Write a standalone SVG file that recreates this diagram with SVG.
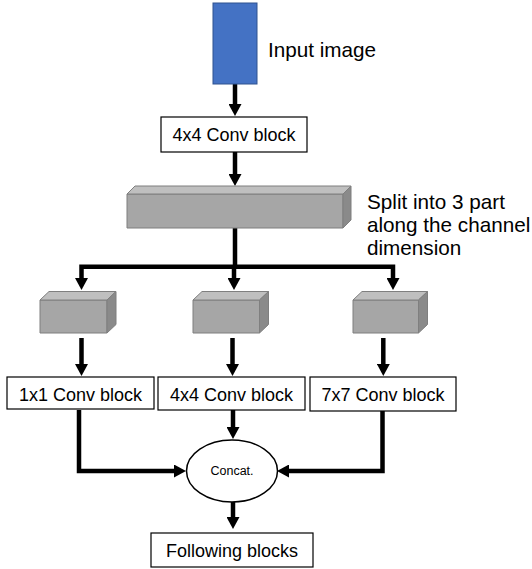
<svg xmlns="http://www.w3.org/2000/svg" width="532" height="569" viewBox="0 0 532 569">
<style>
.box{fill:#fff;stroke:#000;stroke-width:1.2}
.lbl{font-family:"Liberation Sans",Arial,sans-serif;font-size:18px;fill:#000;text-anchor:middle}
.note{font-family:"Liberation Sans",Arial,sans-serif;font-size:20.7px;fill:#000}
.front{fill:#A6A6A6;stroke:#7F7F7F;stroke-width:1}
.top{fill:#BFBFBF;stroke:#7F7F7F;stroke-width:1}
.side{fill:#8A8A8A;stroke:#7F7F7F;stroke-width:1}
.conn{fill:none;stroke:#000;stroke-width:4.5;stroke-linejoin:miter;marker-end:url(#ah)}
</style>
<defs>
<marker id="ah" viewBox="0 0 12 13" refX="2" refY="6.5" markerWidth="12" markerHeight="13" orient="auto" markerUnits="userSpaceOnUse">
<path d="M0,0 L12,6.5 L0,13 z" fill="#000"/>
</marker>
</defs>

<g id="connectors">
<path class="conn" d="M235,84 V106"/>
<path class="conn" d="M235,152 V176"/>
<path class="conn" d="M235,228 V266.7 H81.5 V280"/>
<path class="conn" d="M235,266.7 H393 V280"/>
<path class="conn" d="M234,266.7 V280"/>
<path class="conn" d="M81.5,338 V366"/>
<path class="conn" d="M232.5,338 V366"/>
<path class="conn" d="M383.3,338 V366"/>
<path class="conn" d="M79,410 V471 H176"/>
<path class="conn" d="M382.5,411 V471 H287"/>
<path class="conn" d="M233,410 V429"/>
<path class="conn" d="M233,502 V519"/>
</g>

<g id="input">
<rect x="213" y="3" width="44" height="81" fill="#4472C4" stroke="#2F528F" stroke-width="1"/>
<text class="note" x="268" y="57">Input image</text>
</g>

<g id="conv4-top">
<rect class="box" x="161" y="117" width="146" height="35"/>
<text class="lbl" x="234" y="140.5">4x4 Conv block</text>
</g>

<g id="slab">
<polygon class="front" points="127,194 343,194 343,228 127,228"/>
<polygon class="top" points="127,194 135,186 351,186 343,194"/>
<polygon class="side" points="343,194 351,186 351,220 343,228"/>
</g>

<g id="split-note">
<text class="note" x="367" y="209">Split into 3 part</text>
<text class="note" x="367" y="232">along the channel</text>
<text class="note" x="367" y="255">dimension</text>
</g>

<g id="cube-left">
<polygon class="front" points="40,300 107,300 107,333 40,333"/>
<polygon class="top" points="40,300 49,291.5 116,291.5 107,300"/>
<polygon class="side" points="107,300 116,291.5 116,324.5 107,333"/>
</g>
<g id="cube-mid">
<polygon class="front" points="193,300 259.5,300 259.5,333 193,333"/>
<polygon class="top" points="193,300 202,291.5 268.5,291.5 259.5,300"/>
<polygon class="side" points="259.5,300 268.5,291.5 268.5,324.5 259.5,333"/>
</g>
<g id="cube-right">
<polygon class="front" points="353,300 418.5,300 418.5,333 353,333"/>
<polygon class="top" points="353,300 362,291.5 427.5,291.5 418.5,300"/>
<polygon class="side" points="418.5,300 427.5,291.5 427.5,324.5 418.5,333"/>
</g>

<g id="conv1">
<rect class="box" x="7" y="377" width="147" height="32"/>
<text class="lbl" x="80.5" y="400.5">1x1 Conv block</text>
</g>
<g id="conv4">
<rect class="box" x="158" y="377" width="147" height="33"/>
<text class="lbl" x="231.5" y="400.5">4x4 Conv block</text>
</g>
<g id="conv7">
<rect class="box" x="310" y="377" width="146" height="34"/>
<text class="lbl" x="383" y="400.5">7x7 Conv block</text>
</g>

<g id="concat">
<ellipse cx="232" cy="471" rx="45.5" ry="31" fill="#fff" stroke="#000" stroke-width="1.5"/>
<text class="lbl" x="232" y="475" style="font-size:12.5px">Concat.</text>
</g>

<g id="following">
<rect class="box" x="151" y="533" width="162" height="34"/>
<text class="lbl" x="232" y="556.5">Following blocks</text>
</g>
</svg>
